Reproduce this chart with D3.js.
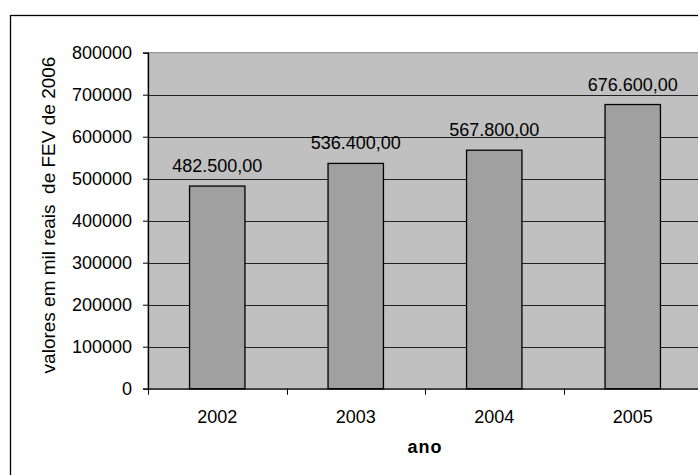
<!DOCTYPE html>
<html>
<head>
<meta charset="utf-8">
<script src="https://cdn.jsdelivr.net/npm/d3@7"></script>
<style>
  html, body { margin: 0; padding: 0; background: #fff; }
  svg { display: block; }
  text { font-family: "Liberation Sans", Arial, Helvetica, sans-serif; fill: #000; }
</style>
</head>
<body>
<svg id="chart" width="698" height="475"></svg>
<script>
const categories = ["2002", "2003", "2004", "2005"];
const values = [482500, 536400, 567800, 676600];
const valueLabels = ["482.500,00", "536.400,00", "567.800,00", "676.600,00"];
const yTicks = [0, 100000, 200000, 300000, 400000, 500000, 600000, 700000, 800000];
const yTitle = "valores em mil reais  de FEV de 2006";
const xTitle = "ano";

(function () {
const svg = d3.select("#chart");
const pL = 148, pT = 52.7, pR = 702, pB = 388.7;

// outer chart border (clipped at right/bottom)
svg.append("rect")
  .attr("x", 10.5).attr("y", 15.5).attr("width", 720).attr("height", 500)
  .attr("fill", "#fff").attr("stroke", "#000").attr("stroke-width", 1.3);

const x = d3.scaleBand().domain(categories).range([pL, pR]).paddingInner(0.6).paddingOuter(0.3);
const xc = d3.scaleBand().domain(categories).range([pL, pR]);
const y = d3.scaleLinear().domain([0, 800000]).range([pB, pT]);

// plot area
svg.append("rect")
  .attr("x", pL).attr("y", pT).attr("width", pR - pL).attr("height", pB - pT)
  .attr("fill", "#c0c0c0").attr("stroke", "#808080").attr("stroke-width", 1);

// gridlines
svg.append("g").selectAll("line")
  .data(yTicks.filter(d => d > 0 && d < 800000))
  .join("line")
  .attr("x1", pL).attr("x2", pR)
  .attr("y1", d => Math.round(y(d)) + 0.5).attr("y2", d => Math.round(y(d)) + 0.5)
  .attr("stroke", "#222").attr("stroke-width", 1);

// bars
svg.append("g").selectAll("rect")
  .data(values)
  .join("rect")
  .attr("x", (d, i) => x(categories[i]))
  .attr("y", d => y(d))
  .attr("width", x.bandwidth())
  .attr("height", d => y(0) - y(d))
  .attr("fill", "#a0a0a0").attr("stroke", "#000").attr("stroke-width", 1.3);

// value labels
svg.append("g").selectAll("text")
  .data(values)
  .join("text")
  .attr("x", (d, i) => x(categories[i]) + x.bandwidth() / 2)
  .attr("y", d => y(d) - 14)
  .attr("text-anchor", "middle")
  .attr("font-size", 18)
  .text((d, i) => valueLabels[i]);

// y axis
const yAxis = svg.append("g")
  .attr("transform", `translate(${pL},0)`)
  .call(d3.axisLeft(y).tickValues(yTicks).tickFormat(d3.format("d")).tickSize(5).tickPadding(11));
yAxis.select(".domain").attr("stroke", "#000").attr("stroke-width", 1.3);
yAxis.selectAll(".tick line").attr("stroke", "#000");
yAxis.selectAll(".tick text").attr("font-size", 18).attr("font-family", "Liberation Sans, Arial, sans-serif").attr("fill", "#000");

// x axis
const xAxis = svg.append("g")
  .attr("transform", `translate(0,${pB})`)
  .call(d3.axisBottom(xc).tickSize(0).tickPadding(22));
xAxis.select(".domain").attr("stroke", "#000").attr("stroke-width", 1.3);
xAxis.selectAll(".tick text").attr("font-size", 18).attr("font-family", "Liberation Sans, Arial, sans-serif").attr("fill", "#000");
// category boundary ticks
svg.append("g").selectAll("line")
  .data(categories)
  .join("line")
  .attr("x1", d => Math.round(xc(d)) + 0.5).attr("x2", d => Math.round(xc(d)) + 0.5)
  .attr("y1", pB).attr("y2", pB + 6)
  .attr("stroke", "#000");

// axis titles
svg.append("text")
  .attr("transform", `translate(55,215) rotate(-90)`)
  .attr("text-anchor", "middle")
  .attr("font-size", 19)
  .style("white-space", "pre")
  .attr("xml:space", "preserve")
  .text(yTitle);

svg.append("text")
  .attr("x", (pL + pR) / 2).attr("y", 453)
  .attr("text-anchor", "middle")
  .attr("font-size", 18).attr("font-weight", "bold")
  .attr("letter-spacing", 1)
  .text(xTitle);
})();
</script>
</body>
</html>
